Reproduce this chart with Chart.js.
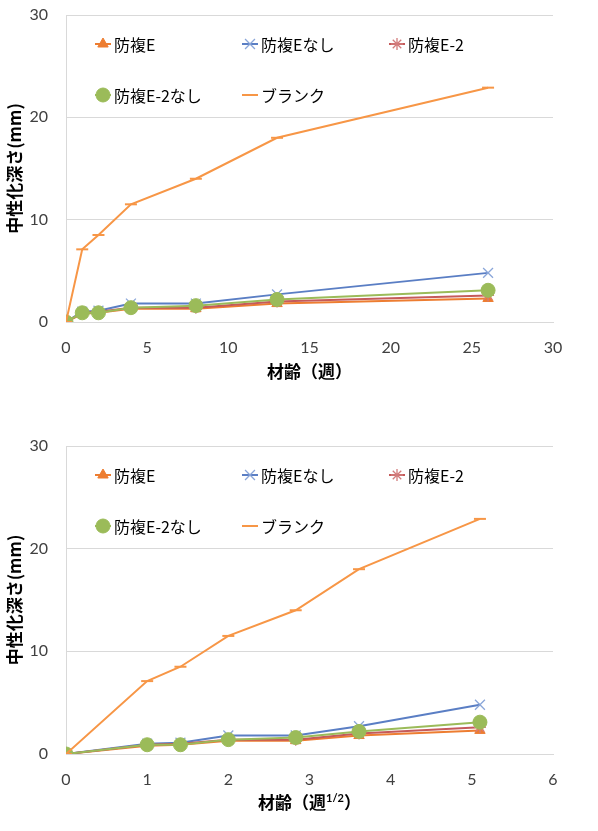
<!DOCTYPE html>
<html>
<head>
<meta charset="utf-8">
<script src="https://cdn.jsdelivr.net/npm/chart.js@4.4.0/dist/chart.umd.min.js"></script>
<style>
  body { margin: 0; background: #fff; }
  canvas { display: block; }
</style>
</head>
<body>
<canvas id="chartWeeks" width="598" height="400"></canvas>
<canvas id="chartSqrt" width="598" height="431"></canvas>
<script>
const weeks = [0, 1, 2, 4, 8, 13, 26];
const sqrtWeeks = [0, 1, 1.41, 2, 2.83, 3.61, 5.1];

const seriesNames = ["防複E", "防複Eなし", "防複E-2", "防複E-2なし", "ブランク"];
const bofukuE = [0, 0.8, 0.9, 1.3, 1.3, 1.8, 2.3];
const bofukuENashi = [0, 1.0, 1.1, 1.8, 1.8, 2.7, 4.8];
const bofukuE2 = [0, 0.9, 1.0, 1.4, 1.4, 2.0, 2.6];
const bofukuE2Nashi = [0, 0.9, 0.9, 1.4, 1.6, 2.2, 3.1];
const blank = [0, 7.1, 8.5, 11.5, 14.0, 18.0, 22.9];

const yTicks = [0, 10, 20, 30];
const xTicksWeeks = [0, 5, 10, 15, 20, 25, 30];
const xTicksSqrt = [0, 1, 2, 3, 4, 5, 6];

const yTitle = "中性化深さ(mm)";
// [main, superscript, closing]
const xTitleWeeks = ["材齢（週", "", "）"];
const xTitleSqrt = ["材齢（週", "1/2", "）"];

const FONT = "Lato, 'Noto Sans CJK JP', sans-serif";
const JP = "'Noto Sans CJK JP', sans-serif";

const styles = [
    { line: "#ED7D31", fill: "#ED7D31", border: "#ED7D31", point: "triangle", r: 6, bw: 1 },
    { line: "#5A7EC4", fill: "rgba(0,0,0,0)", border: "#8AA6D9", point: "crossRot", r: 7, bw: 1.3 },
    { line: "#C55A5A", fill: "rgba(0,0,0,0)", border: "#D27C7C", point: "star", r: 6, bw: 1.3 },
    { line: "#9BBB59", fill: "#9BBB59", border: "#9BBB59", point: "circle", r: 7, bw: 1 },
    { line: "#F79646", fill: "#F79646", border: "#F79646", point: "line", r: 6, bw: 2 },
];

const allSeries = [bofukuE, bofukuENashi, bofukuE2, bofukuE2Nashi, blank];

const makeDatasets = (xs) => allSeries.map((vals, i) => ({
    label: seriesNames[i],
    data: vals.map((v, k) => ({ x: xs[k], y: v })),
    borderColor: styles[i].line,
    borderWidth: 2,
    backgroundColor: styles[i].fill,
    pointStyle: styles[i].point,
    pointRadius: styles[i].r,
    pointBorderColor: styles[i].border,
    pointBackgroundColor: styles[i].fill,
    pointBorderWidth: styles[i].bw,
    order: 5 - i,
    tension: 0,
}));

// legend drawn inside the plot area, two rows like the original
const legendSlots = [[37, 29], [184, 29], [331, 29], [37, 80], [184, 80]];
const innerLegend = {
    id: "innerLegend",
    afterDraw(chart) {
        const { ctx, chartArea } = chart;
        ctx.save();
        chart.data.datasets.forEach((ds, i) => {
            const x = chartArea.left + legendSlots[i][0];
            const y = chartArea.top + legendSlots[i][1];
            ctx.strokeStyle = styles[i].line;
            ctx.lineWidth = 2;
            ctx.beginPath();
            ctx.moveTo(x - 8, y);
            ctx.lineTo(x + 8, y);
            ctx.stroke();
            ctx.fillStyle = styles[i].fill;
            ctx.strokeStyle = styles[i].border;
            ctx.lineWidth = styles[i].bw;
            Chart.helpers.drawPoint(ctx, {
                pointStyle: styles[i].point,
                radius: styles[i].r,
                rotation: 0,
                borderWidth: styles[i].bw,
            }, x, y);
            ctx.fillStyle = "#000";
            ctx.font = "16px " + JP;
            ctx.textBaseline = "middle";
            ctx.textAlign = "left";
            ctx.fillText(ds.label, x + 11, y + 1);
        });
        ctx.restore();
    },
};

// x title (with optional superscript)
const xTitle = {
    id: "xTitle",
    afterDraw(chart) {
        const opts = chart.options.plugins.xTitle;
        const [main, sup, close] = opts.parts;
        const { ctx, chartArea } = chart;
        ctx.save();
        ctx.fillStyle = "#000";
        ctx.textBaseline = "middle";
        ctx.font = "bold 17px " + JP;
        const w1 = ctx.measureText(main).width;
        const w3 = ctx.measureText(close).width;
        ctx.font = "bold 11px " + FONT;
        const w2 = sup ? ctx.measureText(sup).width : 0;
        let x = (chartArea.left + chartArea.right) / 2 - (w1 + w2 + w3) / 2;
        const y = opts.y;
        ctx.font = "bold 17px " + JP;
        ctx.fillText(main, x, y);
        x += w1;
        if (sup) {
            ctx.font = "bold 11px " + FONT;
            ctx.fillText(sup, x, y - 5);
            x += w2;
        }
        ctx.font = "bold 17px " + JP;
        ctx.fillText(close, x, y);
        ctx.restore();
    },
};

const buildChart = (canvasId, xs, xMax, xTicks, titleParts, titleY, plotTop, plotBottom, canvasH) => {
    const ctx = document.getElementById(canvasId).getContext("2d");
    return new Chart(ctx, {
        type: "line",
        data: { datasets: makeDatasets(xs) },
        plugins: [innerLegend, xTitle],
        options: {
            responsive: false,
            animation: false,
            layout: { padding: { top: plotTop, right: 45, left: 0, bottom: 0 } },
            plugins: {
                legend: { display: false },
                tooltip: { enabled: false },
                xTitle: { parts: titleParts, y: titleY },
            },
            scales: {
                x: {
                    type: "linear",
                    min: 0,
                    max: xMax,
                    afterBuildTicks: (scale) => { scale.ticks = xTicks.map((v) => ({ value: v })); },
                    afterFit: (scale) => { scale.height = canvasH - plotBottom; },
                    grid: { display: false, drawTicks: false },
                    border: { color: "#D9D9D9", width: 1 },
                    ticks: { padding: 16, color: "#404040", font: { family: FONT, size: 16 }, maxRotation: 0 },
                },
                y: {
                    min: 0,
                    max: 30,
                    afterBuildTicks: (scale) => { scale.ticks = yTicks.map((v) => ({ value: v })); },
                    afterFit: (scale) => { scale.width = 66; },
                    grid: {
                        color: "#D9D9D9",
                        lineWidth: 1,
                        drawTicks: true,
                        tickLength: 15,
                        tickColor: "rgba(0,0,0,0)",
                    },
                    border: { color: "#D9D9D9", width: 1 },
                    ticks: { padding: 3, color: "#404040", font: { family: FONT, size: 16 } },
                    title: {
                        display: true,
                        text: yTitle,
                        color: "#000",
                        font: { family: JP, size: 17, weight: "bold" },
                        padding: { top: 4, bottom: 0 },
                    },
                },
            },
        },
    });
};

buildChart("chartWeeks", weeks, 30, xTicksWeeks, xTitleWeeks, 372, 15, 322, 400);
buildChart("chartSqrt", sqrtWeeks, 6, xTicksSqrt, xTitleSqrt, 403, 46, 354, 431);
</script>
</body>
</html>
